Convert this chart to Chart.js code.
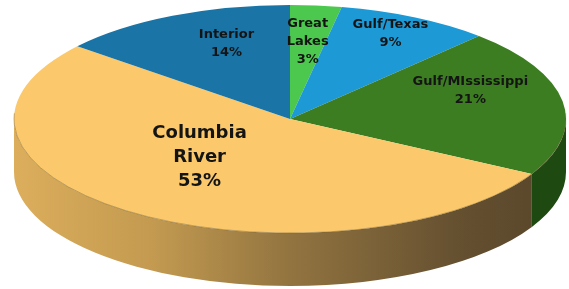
<!DOCTYPE html>
<html>
<head>
<meta charset="utf-8">
<script src="https://cdn.jsdelivr.net/npm/chart.js@4"></script>
<style>
  html, body { margin: 0; padding: 0; background: #fff; }
  canvas { display: block; }
</style>
</head>
<body>
<canvas id="pie" width="569" height="289"></canvas>
<script>
// data, clockwise from 12 o'clock
const categories = ["Great Lakes", "Gulf/Texas", "Gulf/MIssissippi", "Columbia River", "Interior"];
const shares = [3, 9, 21, 53, 14];
const labelLines = [["Great", "Lakes"], ["Gulf/Texas"], ["Gulf/MIssissippi"], ["Columbia", "River"], ["Interior"]];

// look
const topColors = ["#4cc84e", "#1d9ad6", "#3d7d22", "#fbc96b", "#1a74a5"];
const sideColors = ["#2a7a2c", "#10618a", "#1e4a11", "gradient", "#0f4a6a"];
const labelRadius = [0.68, 0.83, 0.70, 0.47, 0.70];
const labelTurn = [0, -1, -12, 10, 6]; // degrees
const RX = 276, RY = 114, DEPTH = 53;

// squashes the flat pie into an ellipse and adds the rim
const pie3d = {
  id: "pie3d",
  beforeDatasetsDraw(chart) {
    const ctx = chart.ctx;
    const arcs = chart.getDatasetMeta(0).data;
    const cx = arcs[0].x, cy = arcs[0].y, r = arcs[0].outerRadius;

    // rim (front half only)
    arcs.forEach((arc, i) => {
      [-2 * Math.PI, 0, 2 * Math.PI].forEach(shift => {
        const a = Math.max(arc.startAngle + shift, 0);
        const b = Math.min(arc.endAngle + shift, Math.PI);
        if (b <= a) return;
        ctx.save();
        ctx.beginPath();
        ctx.ellipse(cx, cy, RX, RY, 0, a, b);
        ctx.lineTo(cx + RX * Math.cos(b), cy + DEPTH + RY * Math.sin(b));
        ctx.ellipse(cx, cy + DEPTH, RX, RY, 0, b, a, true);
        ctx.closePath();
        if (sideColors[i] === "gradient") {
          const g = ctx.createLinearGradient(cx - RX, 0, cx + RX, 0);
          g.addColorStop(0, "#dcae5c");
          g.addColorStop(0.25, "#c39a50");
          g.addColorStop(0.5, "#927440");
          g.addColorStop(0.8, "#655030");
          g.addColorStop(1, "#574429");
          ctx.fillStyle = g;
        } else {
          ctx.fillStyle = sideColors[i];
        }
        ctx.fill();
        ctx.restore();
      });
    });

    ctx.save();
    ctx.translate(cx, cy);
    ctx.scale(RX / r, RY / r);
    ctx.translate(-cx, -cy);
  },
  afterDatasetsDraw(chart) {
    const ctx = chart.ctx;
    ctx.restore();
    const arcs = chart.getDatasetMeta(0).data;
    const cx = arcs[0].x, cy = arcs[0].y;

    // thin edge where the top meets the rim
    ctx.save();
    ctx.beginPath();
    ctx.ellipse(cx, cy, RX, RY, 0, -0.05, Math.PI + 0.05);
    ctx.strokeStyle = "rgba(110,90,50,0.55)";
    ctx.lineWidth = 0.8;
    ctx.stroke();
    ctx.restore();

    // labels
    ctx.save();
    ctx.textAlign = "center";
    ctx.textBaseline = "middle";
    ctx.fillStyle = "#141414";
    arcs.forEach((arc, i) => {
      const big = shares[i] > 50;
      const size = big ? 18 : 13;
      const lh = big ? 24 : 18;
      ctx.font = "bold " + size + "px 'DejaVu Sans', sans-serif";
      const mid = (arc.startAngle + arc.endAngle) / 2 + labelTurn[i] * Math.PI / 180;
      const x = cx + labelRadius[i] * RX * Math.cos(mid);
      const y = cy + labelRadius[i] * RY * Math.sin(mid);
      const lines = labelLines[i].concat([shares[i] + "%"]);
      const top = y - (lines.length - 1) * lh / 2;
      lines.forEach((t, k) => ctx.fillText(t, x, top + k * lh));
    });
    ctx.restore();
  }
};

new Chart(document.getElementById("pie"), {
  type: "pie",
  data: {
    labels: categories,
    datasets: [{
      data: shares,
      backgroundColor: topColors,
      borderWidth: 0
    }]
  },
  options: {
    responsive: false,
    animation: false,
    layout: { padding: { left: 190, right: 179, top: 19, bottom: 70 } },
    plugins: {
      legend: { display: false },
      tooltip: { enabled: false }
    }
  },
  plugins: [pie3d]
});
</script>
</body>
</html>
